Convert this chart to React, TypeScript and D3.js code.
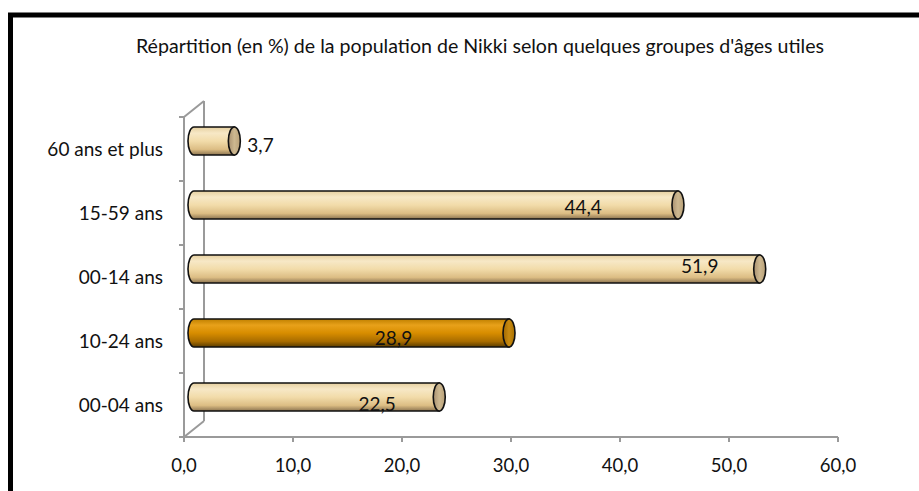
import React from "react";
import * as d3 from "d3";

const title = "Répartition (en %) de la population de Nikki selon quelques groupes d'âges utiles";
const categories = ["60 ans et plus", "15-59 ans", "00-14 ans", "10-24 ans", "00-04 ans"];
const values = [3.7, 44.4, 51.9, 28.9, 22.5];
const highlighted = ["10-24 ans"];
// where each value label sits along the bar (data units); null = outside end
const labelAt: (number | null)[] = [null, 35.7, 46.4, 18.3, 16.8];
const xTicks = [0, 10, 20, 30, 40, 50, 60];

// layout: vertical baseline shift of each value label relative to bar centre (px)
const labelShift = [10.5, 9, 4, 12, 14];

const W = 919;
const H = 491;
const FONT = "Lato, 'Open Sans', sans-serif";

export default function App() {
  const x = d3.scaleLinear().domain([0, 60]).range([184, 838]);
  const y = d3.scaleBand<string>().domain(categories).range([117, 437]).padding(0);
  const dx = 20;
  const dy = -16;
  const rx = 6;
  const ry = 14;
  const fmt = (v: number) => d3.format(".1f")(v).replace(".", ",");
  const axisColor = "#9a9a9a";

  return (
    <svg
      width={W}
      height={H}
      style={{ position: "absolute", left: 0, top: 0, background: "#fff" }}
      fontFamily={FONT}
    >
      <defs>
        <linearGradient id="cream" x1="0" y1="0" x2="0" y2="1">
          <stop offset="0" stopColor="#e6d0a0" />
          <stop offset="0.22" stopColor="#f7e8c6" />
          <stop offset="0.5" stopColor="#f2dcaa" />
          <stop offset="0.8" stopColor="#dcbd84" />
          <stop offset="1" stopColor="#8c7450" />
        </linearGradient>
        <linearGradient id="orange" x1="0" y1="0" x2="0" y2="1">
          <stop offset="0" stopColor="#c08000" />
          <stop offset="0.22" stopColor="#e8a11a" />
          <stop offset="0.5" stopColor="#d88d00" />
          <stop offset="0.8" stopColor="#a86c00" />
          <stop offset="1" stopColor="#5a3c00" />
        </linearGradient>
        <linearGradient id="creamCap" x1="0" y1="0" x2="1" y2="0">
          <stop offset="0" stopColor="#a89070" />
          <stop offset="0.5" stopColor="#cdb890" />
          <stop offset="1" stopColor="#b8a078" />
        </linearGradient>
        <linearGradient id="orangeCap" x1="0" y1="0" x2="1" y2="0">
          <stop offset="0" stopColor="#a06800" />
          <stop offset="0.5" stopColor="#c88a10" />
          <stop offset="1" stopColor="#a87000" />
        </linearGradient>
      </defs>

      {/* frame */}
      <rect x={10.5} y={15} width={1000} height={1000} fill="#fff" stroke="#000" strokeWidth={5} />

      {/* title */}
      <text x={480} y={53} textAnchor="middle" fontSize={19.6} fill="#111">
        {title}
      </text>

      {/* 3D walls */}
      <g stroke={axisColor} strokeWidth={2} fill="none">
        <line x1={x(0)} y1={117} x2={x(0)} y2={437} />
        <line x1={x(0) + dx} y1={117 + dy} x2={x(0) + dx} y2={437 + dy} />
        <line x1={x(0)} y1={117} x2={x(0) + dx} y2={117 + dy} />
        <line x1={x(0)} y1={437} x2={x(0) + dx} y2={437 + dy} />
        <line x1={x(0)} y1={437} x2={x(60)} y2={437} />
        {xTicks.map((t) => (
          <line key={"xt" + t} x1={x(t)} y1={437} x2={x(t)} y2={442} />
        ))}
        {categories.map((c) => (
          <line key={"yt" + c} x1={x(0) - 5} y1={y(c)!} x2={x(0)} y2={y(c)!} />
        ))}
        <line x1={x(0) - 5} y1={437} x2={x(0)} y2={437} />
      </g>

      {/* x tick labels */}
      {xTicks.map((t) => (
        <text key={"xl" + t} x={x(t)} y={472} textAnchor="middle" fontSize={18.5} fill="#111">
          {fmt(t)}
        </text>
      ))}

      {/* category labels */}
      {categories.map((c) => (
        <text
          key={"cl" + c}
          x={163}
          y={y(c)! + y.bandwidth() / 2 + 7}
          textAnchor="end"
          fontSize={19}
          fill="#111"
        >
          {c}
        </text>
      ))}

      {/* cylinders */}
      {categories.map((c, i) => {
        const v = values[i];
        const cy = y(c)! + y.bandwidth() / 2 + dy / 2;
        const x0 = x(0) + dx / 2;
        const x1 = x(v) + dx / 2;
        const hi = highlighted.includes(c);
        const body = `M${x0},${cy - ry} L${x1},${cy - ry} L${x1},${cy + ry} L${x0},${cy + ry} A${rx},${ry} 0 0 1 ${x0},${cy - ry} Z`;
        const la = labelAt[i];
        return (
          <g key={"bar" + c}>
            <path d={body} fill={`url(#${hi ? "orange" : "cream"})`} stroke="#111" strokeWidth={1.6} />
            <ellipse
              cx={x1}
              cy={cy}
              rx={rx}
              ry={ry}
              fill={`url(#${hi ? "orangeCap" : "creamCap"})`}
              stroke="#111"
              strokeWidth={1.6}
            />
            {la === null ? (
              <text x={x1 + rx + 7} y={cy + labelShift[i]} textAnchor="start" fontSize={19} fill="#111">
                {fmt(v)}
              </text>
            ) : (
              <text x={x(la) + dx / 2} y={cy + labelShift[i]} textAnchor="middle" fontSize={19} fill="#111">
                {fmt(v)}
              </text>
            )}
          </g>
        );
      })}
    </svg>
  );
}
